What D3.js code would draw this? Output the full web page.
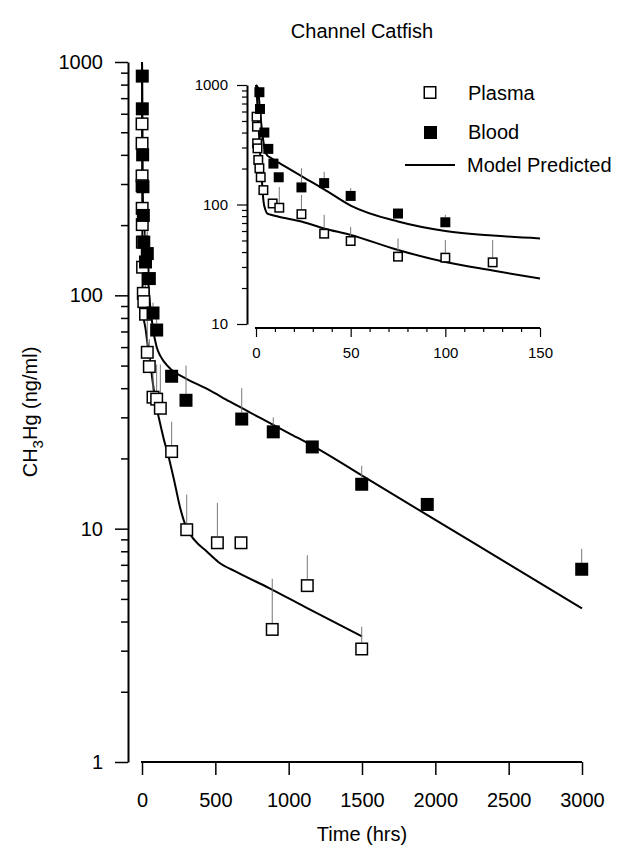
<!DOCTYPE html>
<html><head><meta charset="utf-8">
<script src="https://cdn.jsdelivr.net/npm/d3@7"></script>
<style>
body{margin:0;background:#fff}
svg{display:block}
text{font-family:"Liberation Sans",Arial,Helvetica,sans-serif;fill:#000}
</style>
</head><body>
<svg id="c" width="627" height="848"></svg>
<script>
// ---- data ----
const plasmaTime  = [0.3, 0.5, 0.6, 0.8, 1.2, 1.8, 2.5, 3.9, 8.8, 12.3, 24, 36, 50, 75, 100, 125, 202, 305, 514, 675, 888, 1127, 1498];
const plasmaValue = [543, 448, 325, 295, 236, 201, 169, 132, 102, 94, 83, 57, 49.5, 36.6, 35.9, 32.8, 21.4, 9.9, 8.7, 8.7, 3.7, 5.7, 3.05];
const plasmaErrTop = [null, null, null, null, null, null, null, null, null, 140, 120, 82, 65, 52, 50.5, 50.5, 28.7, 14, 12.9, null, 6.1, 7.7, 3.8];

const bloodTime  = [1.8, 2.1, 4.4, 6.5, 9.2, 12, 24, 36, 50, 75, 100, 202, 300, 680, 895, 1161, 1498, 1945, 2998];
const bloodValue = [870, 630, 400, 292, 220, 169, 139, 151, 118, 84, 71, 45, 35.5, 29.5, 26, 22.4, 15.5, 12.7, 6.7];
const bloodErrTop = [null, null, null, null, null, null, 201, 188, 137, 93, 82, null, 50, 40, 30, null, 18.6, null, 8.2];

const modelPlasmaTime  = [0, 0.5, 1, 2, 3, 4, 5, 6, 8, 12, 24, 36, 50, 75, 100, 125, 150, 180, 220, 260, 300, 360, 440, 520, 650, 870, 1110, 1500];
const modelPlasmaValue = [1000, 800, 560, 300, 170, 105, 90, 84, 82, 79, 72, 63, 55.6, 41.6, 33, 28, 24, 20.5, 16, 12.3, 10.2, 8.9, 8.0, 7.2, 6.5, 5.55, 4.62, 3.45];

const modelBloodTime  = [0, 1, 2, 3, 4, 5, 6, 8, 12, 24, 36, 50, 75, 100, 125, 150, 200, 300, 450, 600, 800, 1000, 1200, 1500, 2000, 2500, 3000];
const modelBloodValue = [1000, 950, 640, 440, 330, 275, 257, 245, 224, 173, 134, 98, 72, 60, 55, 52, 48, 44, 39.5, 35, 30, 25.7, 22, 16.9, 10.9, 7.05, 4.55];

const mainXTicks  = [0, 500, 1000, 1500, 2000, 2500, 3000];
const mainYTicks  = [1, 10, 100, 1000];
const insetXTicks = [0, 50, 100, 150];
const insetYTicks = [10, 100, 1000];
const legendLabels = ["Plasma", "Blood", "Model Predicted"];
const titleText = "Channel Catfish";
const xLabelText = "Time (hrs)";

// ---- drawing ----
const svg = d3.select("#c");
svg.append("rect").attr("width",627).attr("height",848).attr("fill","#fff");

function minorLog(lo, hi){
  const out=[];
  for(let d=lo; d<hi; d*=10) for(let k=2;k<=9;k++) out.push(d*k);
  return out;
}

function drawPanel(cfg){
  const g = svg.append("g");
  const x = d3.scaleLinear().domain(cfg.xDomain).range(cfg.xRange);
  const y = d3.scaleLog().domain(cfg.yDomain).range(cfg.yRange);

  const yAx = g.append("g").attr("transform",`translate(${cfg.yAxisX},0)`)
    .call(d3.axisLeft(y).tickValues(cfg.yTicks).tickSize(cfg.majorLen).tickSizeOuter(0)
      .tickPadding(cfg.yPad).tickFormat(d3.format("d")));
  yAx.selectAll("text").style("font-size",cfg.font+"px");
  g.append("g").attr("transform",`translate(${cfg.yAxisX},0)`)
    .call(d3.axisLeft(y).tickValues(minorLog(cfg.yDomain[0],cfg.yDomain[1])).tickSize(cfg.minorLen).tickSizeOuter(0).tickFormat(""))
    .select(".domain").remove();

  const xAx = g.append("g").attr("transform",`translate(0,${cfg.xAxisY})`)
    .call(d3.axisBottom(x).tickValues(cfg.xTicks).tickSize(cfg.xMajorLen).tickSizeOuter(0)
      .tickPadding(cfg.xPad).tickFormat(d3.format("d")));
  xAx.selectAll("text").style("font-size",cfg.font+"px");
  xAx.select(".domain").attr("d",`M${cfg.xRange[0]-1},0H${cfg.xRange[1]}`);
  if(cfg.xMinor){
    g.append("g").attr("transform",`translate(0,${cfg.xAxisY})`)
      .call(d3.axisBottom(x).tickValues(cfg.xMinor).tickSize(cfg.xMinorLen).tickSizeOuter(0).tickFormat(""))
      .select(".domain").remove();
  }
  g.selectAll(".domain").attr("stroke","#000").attr("stroke-width",cfg.axisW);
  g.selectAll(".tick line").attr("stroke","#000").attr("stroke-width",cfg.tickW);

  const tMax = cfg.xDomain[1];
  const line = d3.line().x(d=>x(d[0])).y(d=>y(d[1])).curve(d3.curveMonotoneX);
  const mp = modelPlasmaTime.map((t,i)=>[t,modelPlasmaValue[i]]).filter(d=>d[0]<=tMax);
  const mb = modelBloodTime.map((t,i)=>[t,modelBloodValue[i]]).filter(d=>d[0]<=tMax);
  [mp,mb].forEach(arr=>{
    g.append("path").datum(arr).attr("d",line).attr("fill","none")
      .attr("stroke","#000").attr("stroke-width",cfg.lineW).attr("stroke-linejoin","round");
  });

  const s = cfg.marker;
  const pts = (times, vals, errs) => times.map((t,i)=>({t, v:vals[i], e:errs[i]})).filter(d=>d.t<=tMax);
  const P = pts(plasmaTime, plasmaValue, plasmaErrTop);
  const B = pts(bloodTime, bloodValue, bloodErrTop);
  [...P,...B].filter(d=>d.e!=null).forEach(d=>{
    g.append("line").attr("x1",x(d.t)).attr("x2",x(d.t))
      .attr("y1",y(d.v)-s/2).attr("y2",y(d.e))
      .attr("stroke","#777").attr("stroke-width",1);
  });
  g.selectAll(null).data(P).enter().append("rect")
    .attr("x",d=>x(d.t)-s/2+0.75).attr("y",d=>y(d.v)-s/2+0.75)
    .attr("width",s-1.5).attr("height",s-1.5)
    .attr("fill","#fff").attr("stroke","#000").attr("stroke-width",1.5);
  g.selectAll(null).data(B).enter().append("rect")
    .attr("x",d=>x(d.t)-s/2).attr("y",d=>y(d.v)-s/2)
    .attr("width",s).attr("height",s).attr("fill","#000");
}

drawPanel({
  xDomain:[0,3000], xRange:[142,582], yDomain:[1,1000], yRange:[762,62],
  yAxisX:128, xAxisY:762, yTicks:mainYTicks, xTicks:mainXTicks,
  majorLen:13, minorLen:7, xMajorLen:13, yPad:12, xPad:18, font:20,
  axisW:2, tickW:1.5, lineW:2, marker:13
});

drawPanel({
  xDomain:[0,150], xRange:[256,540], yDomain:[10,1000], yRange:[324,85],
  yAxisX:247, xAxisY:328, yTicks:insetYTicks, xTicks:insetXTicks,
  xMinor:d3.range(10,150,10).filter(v=>v%50!==0), xMinorLen:4,
  majorLen:10, minorLen:5, xMajorLen:9, yPad:9, xPad:10, font:15,
  axisW:2, tickW:1.2, lineW:2, marker:10
});

const lg = svg.append("g");
lg.append("rect").attr("x",424.25).attr("y",86.75).attr("width",11.5).attr("height",11.5)
  .attr("fill","#fff").attr("stroke","#000").attr("stroke-width",1.5);
lg.append("rect").attr("x",424).attr("y",126).attr("width",13).attr("height",13).attr("fill","#000");
lg.append("line").attr("x1",405).attr("x2",455).attr("y1",165).attr("y2",165).attr("stroke","#000").attr("stroke-width",2);
[[468,93],[468,132],[467,165]].forEach((p,i)=>{
  lg.append("text").attr("x",p[0]).attr("y",p[1]).attr("dy","0.35em")
    .style("font-size","20px").text(legendLabels[i]);
});

svg.append("text").attr("x",362).attr("y",38).attr("text-anchor","middle")
  .style("font-size","20px").text(titleText);
svg.append("text").attr("x",362).attr("y",841).attr("text-anchor","middle")
  .style("font-size","20px").text(xLabelText);
const yl = svg.append("text").attr("transform","translate(37,412) rotate(-90)")
  .attr("text-anchor","middle").style("font-size","20px");
yl.append("tspan").text("CH");
yl.append("tspan").attr("dy",6).style("font-size","15px").text("3");
yl.append("tspan").attr("dy",-6).text("Hg (ng/ml)");
</script>
</body></html>
